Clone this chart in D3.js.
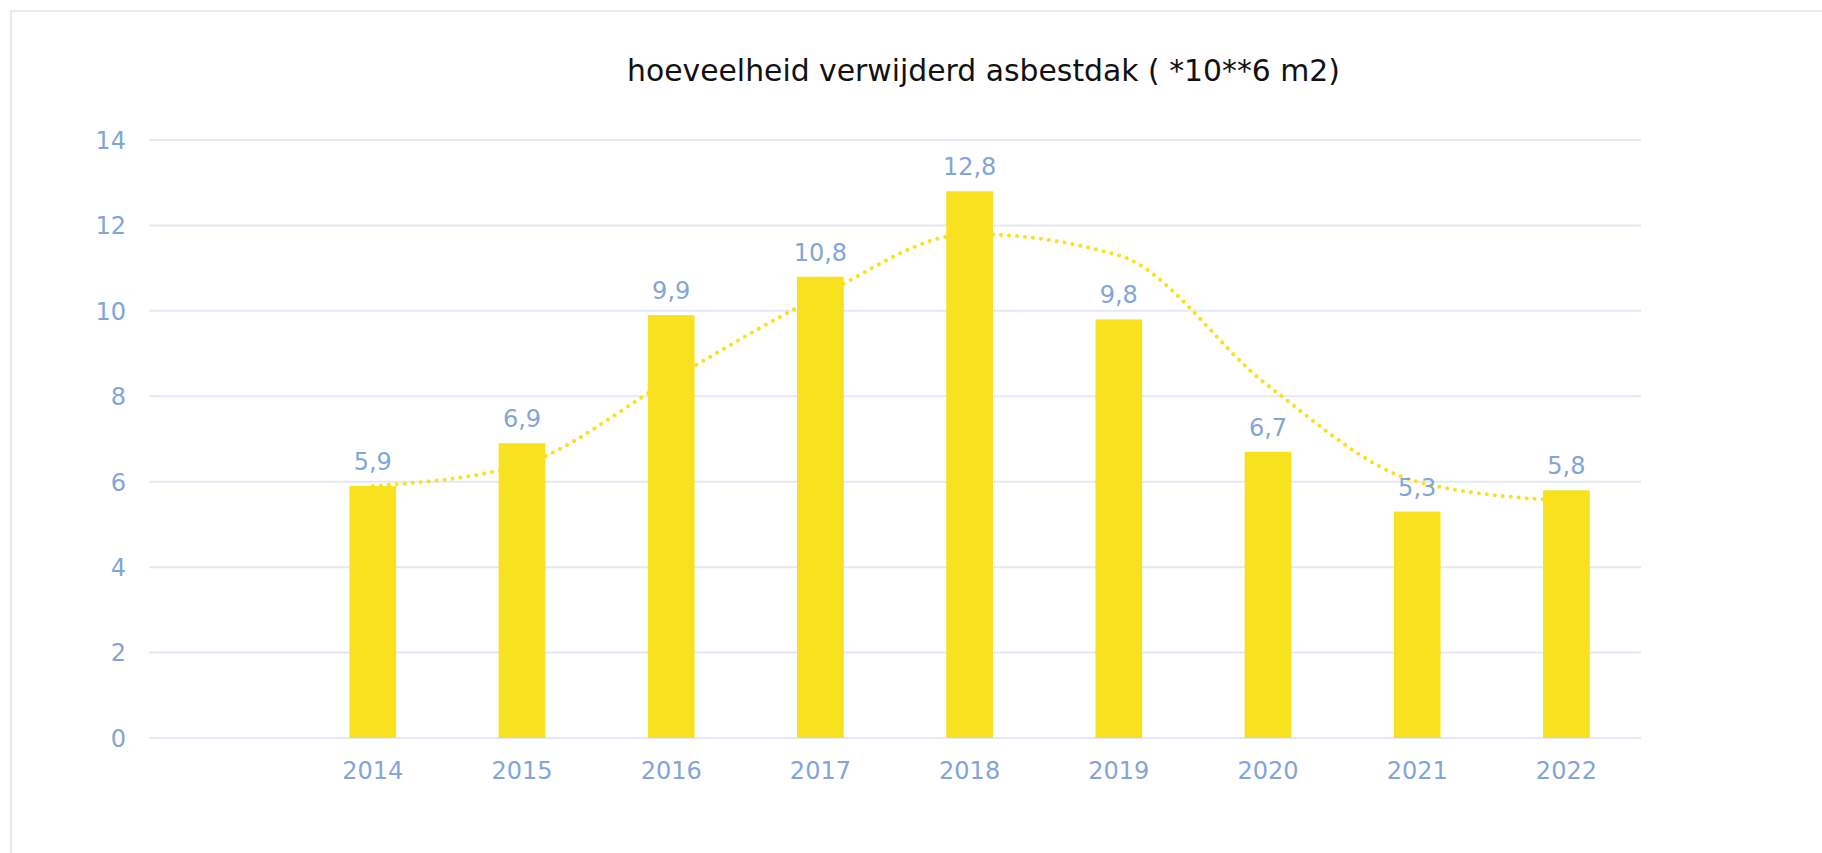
<!DOCTYPE html>
<html>
<head>
<meta charset="utf-8">
<script src="https://cdn.jsdelivr.net/npm/d3@7"></script>
<style>
  html, body { margin: 0; padding: 0; background: #ffffff; }
  svg { display: block; }
</style>
</head>
<body>
<svg id="chart" width="1822" height="853"></svg>
<script>
// ---- data ----
const title = "hoeveelheid verwijderd asbestdak ( *10**6 m2)";
const categories = ["", "2014", "2015", "2016", "2017", "2018", "2019", "2020", "2021", "2022"];
const values     = [null, 5.9, 6.9, 9.9, 10.8, 12.8, 9.8, 6.7, 5.3, 5.8];
const valueLabels = ["", "5,9", "6,9", "9,9", "10,8", "12,8", "9,8", "6,7", "5,3", "5,8"];
const trend      = [null, 5.9, 6.4, 8.4, 10.35, 11.8, 11.3, 8.25, 6.0, 5.55];
const yTicks     = [0, 2, 4, 6, 8, 10, 12, 14];

// ---- layout ----
const W = 1822, H = 853;
const plot = { left: 149, right: 1641, top: 140, bottom: 738 };
const labelColor = "#82a6d6";
const gridColor = "#e2e9f4";
const barColor = "#f8e11f";
const font = "DejaVu Sans, Verdana, sans-serif";

const svg = d3.select("#chart");

// frame
svg.append("rect")
  .attr("x", 11).attr("y", 11)
  .attr("width", W + 20).attr("height", H + 20)
  .attr("fill", "none")
  .attr("stroke", "#e6ecf5")
  .attr("stroke-width", 2);

const x = d3.scaleBand().domain(categories).range([plot.left, plot.right]).paddingInner(0).paddingOuter(0);
const y = d3.scaleLinear().domain([0, 14]).range([plot.bottom, plot.top]);
const barW = x.bandwidth() * 0.313;

// gridlines
svg.append("g")
  .selectAll("line")
  .data(yTicks)
  .join("line")
  .attr("x1", plot.left).attr("x2", plot.right)
  .attr("y1", d => y(d)).attr("y2", d => y(d))
  .attr("stroke", gridColor)
  .attr("stroke-width", 2);

// y axis labels
const yAxis = d3.axisLeft(y).tickValues(yTicks).tickSize(0).tickPadding(0).tickFormat(d3.format("d"));
const gy = svg.append("g").attr("transform", `translate(${126},0)`).call(yAxis);
gy.select(".domain").remove();
gy.selectAll("text")
  .attr("fill", labelColor)
  .attr("font-family", font)
  .attr("font-size", 24)
  .attr("dy", "0.35em");

// x axis labels
const xAxis = d3.axisBottom(x).tickSize(0).tickPadding(0);
const gx = svg.append("g").attr("transform", `translate(0,${plot.bottom})`).call(xAxis);
gx.select(".domain").remove();
gx.selectAll("text")
  .attr("fill", labelColor)
  .attr("font-family", font)
  .attr("font-size", 24)
  .attr("dy", null)
  .attr("y", 41);

// trend line (behind bars)
const pts = categories.map((c, i) => ({ c, v: trend[i] })).filter(d => d.v != null);
const line = d3.line()
  .x(d => x(d.c) + x.bandwidth() / 2)
  .y(d => y(d.v))
  .curve(d3.curveMonotoneX);
svg.append("path")
  .datum(pts)
  .attr("d", line)
  .attr("fill", "none")
  .attr("stroke", barColor)
  .attr("stroke-width", 4)
  .attr("stroke-linecap", "round")
  .attr("stroke-dasharray", "0.01 8");

// bars
const barData = categories.map((c, i) => ({ c, v: values[i], l: valueLabels[i] })).filter(d => d.v != null);
svg.append("g")
  .selectAll("rect")
  .data(barData)
  .join("rect")
  .attr("x", d => x(d.c) + x.bandwidth() / 2 - barW / 2)
  .attr("width", barW)
  .attr("y", d => y(d.v))
  .attr("height", d => y(0) - y(d.v))
  .attr("fill", barColor);

// value labels
svg.append("g")
  .selectAll("text")
  .data(barData)
  .join("text")
  .attr("x", d => x(d.c) + x.bandwidth() / 2)
  .attr("y", d => y(d.v) - 16)
  .attr("text-anchor", "middle")
  .attr("fill", labelColor)
  .attr("font-family", font)
  .attr("font-size", 24)
  .text(d => d.l);

// title
svg.append("text")
  .attr("x", 627)
  .attr("y", 81)
  .attr("text-anchor", "start")
  .attr("fill", "#111111")
  .attr("font-family", font)
  .attr("font-size", 31)
  .attr("textLength", 713)
  .attr("lengthAdjust", "spacingAndGlyphs")
  .text(title);
</script>
</body>
</html>
